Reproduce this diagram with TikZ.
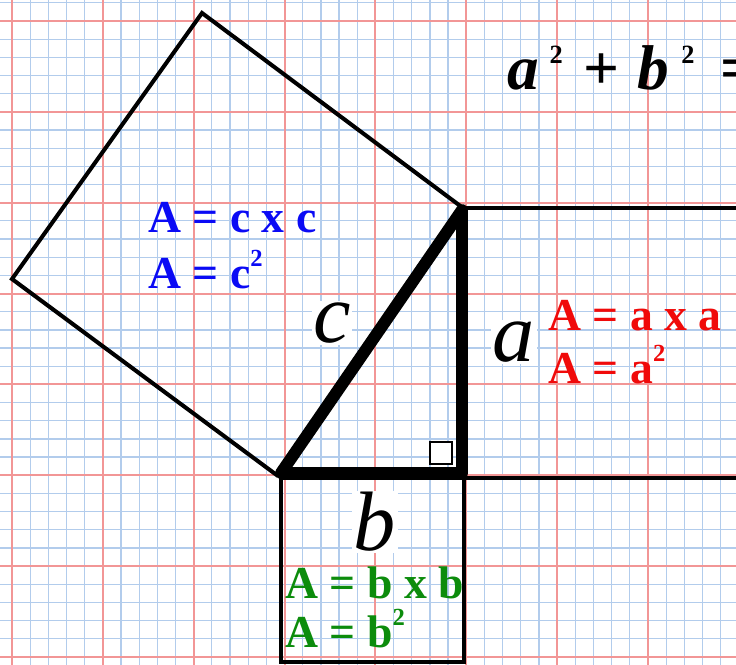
\documentclass[tikz,border=0pt]{standalone}
\usepackage{fontspec}
\setmainfont{Liberation Serif}
\usepackage{xcolor}
\usepackage{tikz}
\usetikzlibrary{positioning}
\definecolor{gridblue}{RGB}{178,204,236}
\definecolor{gridred}{RGB}{242,150,150}
\definecolor{myblue}{RGB}{10,10,245}
\definecolor{myred}{RGB}{240,10,10}
\definecolor{mygreen}{RGB}{12,140,12}
\newcommand{\sqmark}{\raisebox{12pt}{\fontsize{14}{14}\selectfont 2}}
\newcommand{\topsq}{\raisebox{15pt}{\fontsize{15}{15}\selectfont\bfseries\upshape 2}}
\tikzset{
  gridminor/.style={draw=gridblue, line width=0.7pt},
  gridmajor/.style={draw=gridred, line width=1.1pt},
  edge/.style={draw=black, line width=2.3pt},
  leg/.style={draw=black, line width=6.8pt, line join=round},
  sidelabel/.style={fill=white, inner sep=1pt, font=\fontsize{48}{48}\selectfont\itshape},
  areatext/.style={anchor=base west, inner sep=0pt, font=\fontsize{26}{30}\selectfont\bfseries}
}

\begin{document}
\begin{tikzpicture}[x=0.02cm, y=-0.02cm]
  \useasboundingbox (0,0) rectangle (736,665);
  \clip (0,0) rectangle (736,665);
  \fill[white] (0,0) rectangle (736,665);

  % graph paper
  \foreach \i in {-1,...,40}
    \draw[gridminor] ({12+18.17*\i},0) -- ({12+18.17*\i},665);
  \foreach \i in {-2,...,36}
    \draw[gridminor] (0,{21+18.17*\i}) -- (736,{21+18.17*\i});
  \foreach \i in {0,...,8}
    \draw[gridmajor] ({12+90.85*\i},0) -- ({12+90.85*\i},665);
  \foreach \i in {0,...,7}
    \draw[gridmajor] (0,{21+90.85*\i}) -- (736,{21+90.85*\i});

  % corners
  \coordinate (A) at (281,473);
  \coordinate (B) at (462,210);
  \coordinate (C) at (462,473);

  % square on c
  \draw[edge] (463,208) -- (202,13) -- (12,279) -- (278,476);
  % square on a
  \draw[edge] (463,208) -- (745,208);
  \draw[edge] (463,478) -- (745,478);
  % square on b
  \draw[edge] (281,478) -- (281,662) -- (464,662) -- (464,478);
  \draw[edge] (281,478) -- (464,478);

  % triangle
  \draw[leg] (A) -- (B) -- (C) -- cycle;
  \draw[black, line width=1.5pt, fill=white] (430,442) rectangle (452,464);

  % side names
  \node[sidelabel] (alabel) at (514,342) {a};
  \node[sidelabel] (blabel) at (375,522) {b};
  \node[sidelabel] (clabel) at (332,323) {c};

  % areas
  \node[areatext, myblue] (carea) at (148,233) {A = c x c};
  \node[areatext, myblue] (csq) at (148,288) {A = c\sqmark};
  \node[areatext, myred] (aarea) at (548,330) {A = a x a};
  \node[areatext, myred] (asq) at (548,383) {A = a\sqmark};
  \node[areatext, mygreen] (barea) at (285,598) {A = b x b};
  \node[areatext, mygreen] (bsq) at (285,647) {A = b\sqmark};

  % formula
  \node[anchor=base west, inner sep=0pt, font=\fontsize{36}{40}\selectfont\bfseries\itshape]
    (formula) at (507,90) {a\hspace{6pt}\topsq\hspace{12pt}\upshape+\hspace{10pt}\itshape b\hspace{7pt}\topsq\hspace{15pt}\upshape=};
\end{tikzpicture}
\end{document}
